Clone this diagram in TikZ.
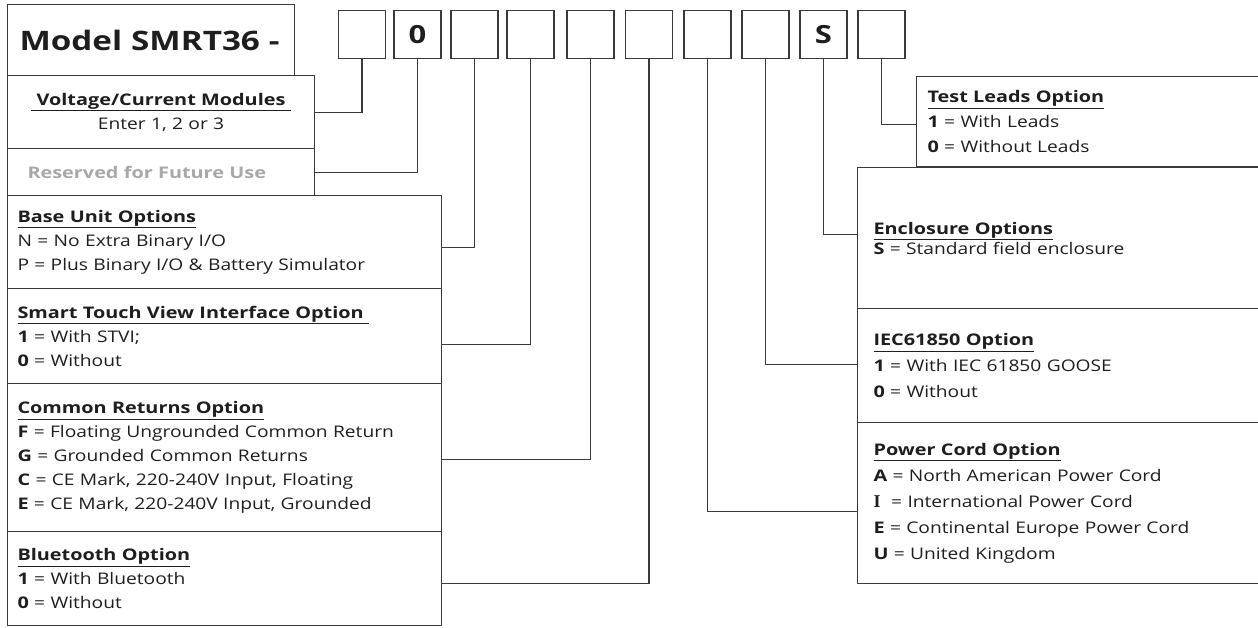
\documentclass[tikz,border=0pt]{standalone}
\usepackage{fontspec}
\setmainfont{Open Sans}[FakeStretch=1.2, BoldFeatures={FakeStretch=1.24}]
\newfontfamily\serifbold{Liberation Serif}
\definecolor{ln}{HTML}{3A3A3A}
\definecolor{txt}{HTML}{1E1E1E}
\definecolor{faded}{HTML}{A8A8A8}
\newcommand{\hd}[1]{\underline{\textbf{#1}}}
\begin{document}
\begin{tikzpicture}[x=1pt, y=-1pt,
                    text=txt,
                    digit/.style={draw=ln, line width=1.1pt, minimum width=47pt, minimum height=48pt,
                                  inner sep=0, font=\fontsize{25}{25}\selectfont\bfseries},
                    opt/.style={draw=ln, line width=1.1pt, anchor=north west, align=left,
                                inner xsep=10pt, inner ysep=0pt, text width=414pt,
                                font=\fontsize{16}{24}\selectfont},
                    wire/.style={draw=ln, line width=1.1pt}]
    \clip (0,0) rectangle (1258,627);

    \node (title) [draw=ln, line width=1.1pt, anchor=north west, minimum width=287pt, minimum height=71pt,
                   inner xsep=12pt, text width=263pt, align=left, font=\fontsize{26.8}{27}\selectfont\bfseries]
                   at (7,4) {Model SMRT36 -};

    \node (d1)  [digit] at (362,34.5) {};
    \node (d2)  [digit] at (417.5,34.5) {0};
    \node (d3)  [digit] at (474.5,34.5) {};
    \node (d4)  [digit] at (530.5,34.5) {};
    \node (d5)  [digit] at (590.5,34.5) {};
    \node (d6)  [digit] at (649,34.5) {};
    \node (d7)  [digit] at (707.5,34.5) {};
    \node (d8)  [digit] at (765.5,34.5) {};
    \node (d9)  [digit] at (823.5,34.5) {S};
    \node (d10) [digit] at (881.5,34.5) {};

    \node (volt) [opt, minimum height=73pt, text width=287pt, align=center] at (7,75)
        {\hd{~Voltage/Current Modules~}\\ Enter 1, 2 or 3};
    \node (rsvd) [opt, minimum height=47pt, inner xsep=20pt, text width=267pt] at (7,148)
        {\textcolor{faded}{\textbf{Reserved for Future Use}}};
    \node (base) [opt, minimum height=93pt] at (7,195)
        {\hd{Base Unit Options}\\ N = No Extra Binary I/O\\ P = Plus Binary I/O \& Battery Simulator};
    \node (stvi) [opt, minimum height=95pt] at (7,288)
        {\hd{Smart Touch View Interface Option~}\\ \textbf{1} = With STVI;\\ \textbf{0} = Without};
    \node (ret) [opt, minimum height=148pt] at (7,383)
        {\hd{Common Returns Option}\\ \textbf{F} = Floating Ungrounded Common Return\\
         \textbf{G} = Grounded Common Returns\\ \textbf{C} = CE Mark, 220-240V Input, Floating\\
         \textbf{E} = CE Mark, 220-240V Input, Grounded};
    \node (bt) [opt, minimum height=94pt] at (7,531)
        {\hd{Bluetooth Option}\\ \textbf{1} = With Bluetooth\\ \textbf{0} = Without};

    \node (leads) [opt, minimum height=90pt, inner xsep=11pt, text width=398pt,
                   font=\fontsize{16}{25}\selectfont] at (916,76)
        {\hd{Test Leads Option}\\ \textbf{1} = With Leads\\ \textbf{0} = Without Leads};
    \node (encl) [opt, minimum height=141pt, inner xsep=16pt, text width=388pt] at (857,167)
        {\hd{Enclosure Options}\\[-4pt] \textbf{S} = Standard field enclosure};
    \node (iec) [opt, minimum height=114pt, inner xsep=16pt, text width=388pt,
                 font=\fontsize{16}{26}\selectfont] at (857,308)
        {\hd{IEC61850 Option}\\ \textbf{1} = With IEC 61850 GOOSE\\ \textbf{0} = Without};
    \node (cord) [opt, minimum height=161pt, inner xsep=16pt, text width=388pt,
                  font=\fontsize{16}{26}\selectfont] at (857,422)
        {\hd{Power Cord Option}\\ \textbf{A} = North American Power Cord\\
         {\serifbold\bfseries\fontsize{18}{26}\selectfont I}~~= International Power Cord\\
         \textbf{E} = Continental Europe Power Cord\\ \textbf{U} = United Kingdom};

    \draw[wire] (d1.south) |- (volt.east);
    \draw[wire] (d2.south) |- (rsvd.east);
    \draw[wire] (d3.south) |- ([yshift=-5.5pt]base.east);
    \draw[wire] (d4.south) |- ([yshift=-8.5pt]stvi.east);
    \draw[wire] (d5.south) |- ([yshift=-2pt]ret.east);
    \draw[wire] (d6.south) |- ([yshift=-5pt]bt.east);
    \draw[wire] (d7.south) |- ([yshift=-8.5pt]cord.west);
    \draw[wire] (d8.south) |- ([yshift=1pt]iec.west);
    \draw[wire] (d9.south) |- ([yshift=3.5pt]encl.west);
    \draw[wire] (d10.south) |- ([yshift=-3pt]leads.west);
\end{tikzpicture}
\end{document}
